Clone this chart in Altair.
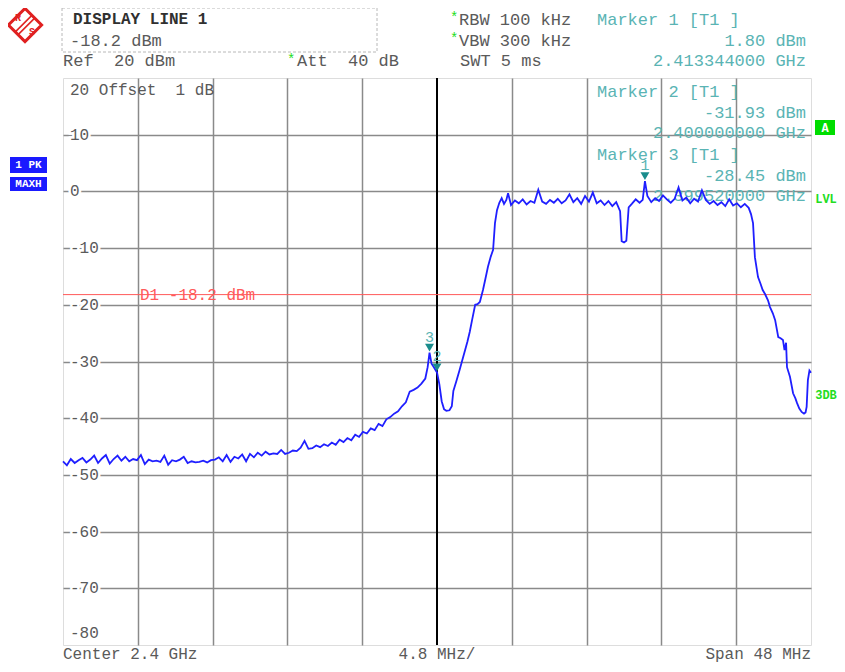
import altair as alt
import pandas as pd

# ---------------- data ----------------
freq_mhz = [
    -24.0, -23.75, -23.5, -23.25, -23.0, -22.75, -22.5, -22.25, -22.0, -21.75,
    -21.5, -21.25, -21.0, -20.75, -20.5, -20.25, -20.0, -19.75, -19.5, -19.25,
    -19.0, -18.75, -18.5, -18.25, -18.0, -17.75, -17.5, -17.25, -17.0, -16.75,
    -16.5, -16.25, -16.0, -15.75, -15.5, -15.25, -15.0, -14.75, -14.5, -14.25,
    -14.0, -13.75, -13.5, -13.25, -13.0, -12.75, -12.5, -12.25, -12.0, -11.75,
    -11.5, -11.25, -11.0, -10.75, -10.5, -10.25, -10.0, -9.75, -9.5, -9.25,
    -9.0, -8.75, -8.5, -8.25,
    -8.0, -7.75, -7.5, -7.25, -7.0, -6.75, -6.5, -6.25, -6.0, -5.75,
    -5.5, -5.25, -5.0, -4.75, -4.5, -4.25, -4.0, -3.75, -3.5, -3.25,
    -3.0, -2.75, -2.5, -2.25, -2.0, -1.75, -1.5, -1.25, -1.0, -0.75,
    -0.6, -0.48, -0.35, -0.2, 0.0, 0.15, 0.3, 0.45, 0.6, 0.8,
    0.95, 1.05, 1.25, 1.45, 1.6, 1.8, 1.95, 2.1, 2.25, 2.45,
    2.6, 2.75, 2.95, 3.1, 3.27, 3.45, 3.6, 3.72, 3.85, 4.0,
    4.15, 4.3, 4.45, 4.56,
    4.75, 5.0, 5.25, 5.5, 5.75, 6.0, 6.25, 6.5, 6.75, 7.0,
    7.25, 7.5, 7.75, 8.0, 8.25, 8.5, 8.75, 9.0, 9.25, 9.5,
    9.75, 10.0, 10.25, 10.5, 10.75, 11.0, 11.25, 11.5, 11.75, 11.85,
    12.0, 12.15, 12.3, 12.5, 12.75, 13.0, 13.2, 13.344, 13.5, 13.75,
    14.0, 14.25, 14.5, 14.75, 15.0, 15.25, 15.5, 15.75, 16.0, 16.25,
    16.5, 16.75, 17.0, 17.25, 17.5, 17.75, 18.0, 18.25, 18.5, 18.75,
    19.0, 19.25, 19.5, 19.75, 20.0, 20.15, 20.28, 20.4, 20.6, 20.75,
    20.9, 21.05, 21.24, 21.37, 21.55, 21.7, 21.9, 22.05, 22.2, 22.3,
    22.4, 22.46, 22.65, 22.85, 23.0, 23.1, 23.25, 23.4, 23.55, 23.65,
    23.72, 23.8, 23.9, 24.0,
]
level_dbm = [
    -47.6, -48.3, -47.2, -47.9, -47.4, -47.0, -47.8, -47.3, -46.6, -47.9,
    -47.1, -46.5, -48.0, -47.2, -46.6, -47.5, -46.8, -47.6, -47.2, -47.4,
    -46.5, -48.1, -47.3, -47.6, -47.5, -47.7, -46.6, -48.2, -47.4, -47.6,
    -47.3, -46.8, -47.9, -47.6, -47.8, -47.7, -47.5, -47.8, -47.4, -47.3,
    -46.9, -47.6, -46.5, -47.7, -46.8, -47.1, -46.4, -47.6, -46.3, -46.9,
    -46.1, -46.6, -45.9, -46.4, -46.2, -46.3, -45.6, -46.3, -46.1, -45.7,
    -45.8, -45.2, -44.0, -45.4,
    -45.3, -44.8, -45.1, -44.6, -44.9, -44.3, -44.7, -43.8, -44.2, -43.5,
    -43.9, -42.9, -43.3, -42.4, -42.7, -41.8, -42.1, -41.0, -41.4, -40.2,
    -39.8, -39.2, -38.8, -37.9, -37.2, -35.3, -35.0, -34.6, -33.9, -33.0,
    -31.0, -28.45, -30.4, -31.0, -31.93, -34.0, -37.0, -38.4, -38.7, -38.6,
    -37.9, -35.2, -33.4, -31.5, -30.0, -28.0, -26.5, -24.8, -22.7, -20.0,
    -19.9, -19.5, -17.4, -15.5, -13.3, -11.5, -10.3, -5.6, -3.3, -2.0,
    -1.2, -2.2, -1.5, -0.3,
    -2.4, -1.6, -2.1, -1.4, -2.3, -1.7, -2.0, 0.3, -1.8, -2.2,
    -1.5, -2.0, -1.3, -2.1, -1.6, -0.5, -1.9, -1.2, -2.2, -0.8,
    -1.8, -0.2, -2.1, -1.6, -2.4, -1.7, -2.6, -1.9, -3.5, -8.8,
    -9.0, -8.7, -2.8, -2.2, -1.4, -2.0, -1.5, 1.80, -0.8, -1.9,
    -1.2, -1.7, -0.7, -1.4, -2.0, -1.3, 0.7, -1.6, -1.1, -2.1,
    -1.3, -1.8, 0.2, -1.5, -2.2, -1.7, -2.4, -1.9, -2.6, -1.4,
    -2.5, -2.1, -2.8, -2.2, -2.9, -4.0, -5.6, -11.6, -15.1, -16.2,
    -17.4, -18.1, -19.2, -20.4, -21.5, -22.7, -25.7, -25.9, -26.2, -28.0,
    -26.7, -31.0, -32.7, -35.6, -36.5, -37.3, -38.3, -38.9, -39.2, -39.0,
    -38.0, -33.3, -31.6, -32.0,
]

grid_x = [-19.2, -14.4, -9.6, -4.8, 4.8, 9.6, 14.4, 19.2]
grid_y = [10, 0, -10, -20, -30, -40, -50, -60, -70]
ylabel_vals = [10, 0, -10, -20, -30, -40, -50, -60, -70]
ylabel_text = ["10", "0", "-10", "-20", "-30", "-40", "-50", "-60", "-70"]

display_line_db = -18.2
marker_freq = [13.344, 0.0, -0.48]
marker_level = [1.80, -31.93, -28.45]
marker_name = ["1", "2", "3"]

NB = "\u00a0"
header_left = ["DISPLAY LINE 1", "-18.2 dBm", "Ref" + NB * 2 + "20 dBm", "Att" + NB * 2 + "40 dB"]
header_mid = ["RBW 100 kHz", "VBW 300 kHz", "SWT 5 ms"]
marker_lines = [
    "Marker 1 [T1 ]", "1.80 dBm", "2.413344000 GHz",
    "Marker 2 [T1 ]", "-31.93 dBm", "2.400000000 GHz",
    "Marker 3 [T1 ]", "-28.45 dBm", "2.399520000 GHz",
]
footer = ["Center 2.4 GHz", "4.8 MHz/", "Span 48 MHz"]

# ---------------- styling ----------------
FONT = "Liberation Mono"
W, H = 748, 567
GRAY = "#5a5a5a"
TEAL = "#5ab4b4"
TEAL_D = "#1a8c8c"
GREEN = "#22dd22"
BLUE = "#1f1fff"
RED = "#ff5a5a"

trace = pd.DataFrame({"f": freq_mhz, "db": level_dbm})
markers = pd.DataFrame({"f": marker_freq, "db": marker_level, "name": marker_name})
ylabels = pd.DataFrame({"db": ylabel_vals, "t": ylabel_text})
one = pd.DataFrame({"k": [0]})

xscale = alt.Scale(domain=[-24, 24], nice=False, zero=False)
yscale = alt.Scale(domain=[-80, 20], nice=False, zero=False)
xaxis = alt.Axis(values=grid_x, grid=True, gridColor="#8a8a8a", gridWidth=1.5,
                 labels=False, ticks=False, domain=False, title=None)
yaxis = alt.Axis(values=grid_y, grid=True, gridColor="#8a8a8a", gridWidth=1.5,
                 labels=False, ticks=False, domain=False, title=None)


def X():
    return alt.X("f:Q", scale=xscale, axis=xaxis)


def Y():
    return alt.Y("db:Q", scale=yscale, axis=yaxis)


def label(s, px, py, color=GRAY, size=17, align="left", weight="normal"):
    return alt.Chart(one).mark_text(
        text=s, font=FONT, fontSize=size, color=color, align=align,
        baseline="middle", fontWeight=weight,
    ).encode(x=alt.value(px), y=alt.value(py))


def box(x1, x2, y1, y2, fill=None, stroke=None, dash=None, sw=1):
    kw = {}
    if fill:
        kw["fill"] = fill
    else:
        kw["fillOpacity"] = 0
    if stroke:
        kw["stroke"] = stroke
        kw["strokeWidth"] = sw
    if dash:
        kw["strokeDash"] = dash
    return alt.Chart(one).mark_rect(**kw).encode(
        x=alt.value(x1), x2=alt.value(x2), y=alt.value(y1), y2=alt.value(y2))


def seg(x1, y1, x2, y2, color, sw):
    return alt.Chart(one).mark_rule(color=color, strokeWidth=sw).encode(
        x=alt.value(x1), x2=alt.value(x2), y=alt.value(y1), y2=alt.value(y2))


layers = []

# grid carrier (invisible) + center line
layers.append(alt.Chart(trace).mark_line(opacity=0).encode(x=X(), y=Y()))
layers.append(alt.Chart(pd.DataFrame({"f": [0.0]})).mark_rule(color="black", strokeWidth=2).encode(x=X()))

# y labels erasing the grid behind them
layers.append(alt.Chart(ylabels).mark_text(font=FONT, fontSize=16, align="left", baseline="middle",
                                           color="white", stroke="white", strokeWidth=5)
              .encode(x=alt.value(7), y=Y(), text="t:N"))
layers.append(alt.Chart(ylabels).mark_text(font=FONT, fontSize=16, align="left", baseline="middle",
                                           color=GRAY).encode(x=alt.value(7), y=Y(), text="t:N"))
layers.append(label("20 Offset" + NB * 2 + "1 dB", 7, 12, size=16))
layers.append(label("-80", 7, 555, size=16))

# display line
layers.append(alt.Chart(pd.DataFrame({"db": [display_line_db]})).mark_rule(color=RED, strokeWidth=1).encode(y=Y()))
layers.append(alt.Chart(pd.DataFrame({"db": [display_line_db]})).mark_text(
    text="D1 -18.2 dBm", font=FONT, fontSize=16, color=RED, align="left", baseline="middle")
    .encode(x=alt.value(77), y=Y()))

# marker info text (inside and above plot)
mk_pos = [(534, -58, "left"), (743, -37, "right"), (743, -17, "right"),
          (534, 14, "left"), (743, 35, "right"), (743, 55, "right"),
          (534, 77, "left"), (743, 98, "right"), (743, 118, "right")]
for s, (px, py, al) in zip(marker_lines, mk_pos):
    layers.append(label(s, px, py, color=TEAL, align=al))

# trace
layers.append(alt.Chart(trace).mark_line(color=BLUE, strokeWidth=1.8).encode(x=X(), y=Y()))

# markers
layers.append(alt.Chart(markers).mark_point(shape="triangle-down", filled=True, size=80,
                                            color=TEAL_D, opacity=1, yOffset=-5)
              .encode(x=X(), y=Y()))
layers.append(alt.Chart(markers).mark_text(font=FONT, fontSize=15, color=TEAL, dy=-16,
                                           baseline="middle")
              .encode(x=X(), y=Y(), text="name:N"))

# header
layers.append(box(-1, 314, -70, -26, stroke="#b8b8b8", dash=[3, 2]))
layers.append(label(header_left[0], 10, -59, color="#303030", size=16, weight="bold"))
layers.append(label(header_left[1], 7, -37))
layers.append(label(header_left[2], 0, -17))
layers.append(label("*", 224, -18, color=GREEN, size=14))
layers.append(label(header_left[3], 234, -17))
layers.append(label("*", 387, -60, color=GREEN, size=14))
layers.append(label(header_mid[0], 396, -58))
layers.append(label("*", 387, -39, color=GREEN, size=14))
layers.append(label(header_mid[1], 396, -37))
layers.append(label(header_mid[2], 397, -17))

# R&S logo
layers.append(alt.Chart(one).mark_point(shape="diamond", size=1100, filled=False, color="#e02020",
                                        strokeWidth=3, opacity=1)
              .encode(x=alt.value(-38), y=alt.value(-53)))
layers.append(seg(-47.9, -45.9, -30.9, -62.9, "#e02020", 1.5))
layers.append(seg(-45.1, -43.1, -28.1, -60.1, "#e02020", 1.5))
layers.append(label("R", -45, -60, color="#e02020", size=10, align="center", weight="bold"))
layers.append(label("S", -31, -46, color="#e02020", size=10, align="center", weight="bold"))

# left trace-mode boxes
layers.append(box(-53, -16, 79, 95, fill="#1a1aff"))
layers.append(label("1 PK", -34.5, 87, color="white", size=11, align="center", weight="bold"))
layers.append(box(-53, -16, 99, 113, fill="#1a1aff"))
layers.append(label("MAXH", -34.5, 106, color="white", size=11, align="center", weight="bold"))

# right status
layers.append(box(752, 772, 42, 57, fill="#00dd00"))
layers.append(label("A", 762, 50, color="white", size=12, align="center", weight="bold"))
layers.append(label("LVL", 763, 121, color=GREEN, size=12, align="center", weight="bold"))
layers.append(label("3DB", 763, 317, color=GREEN, size=12, align="center", weight="bold"))

# footer
layers.append(label(footer[0], 0, 576, size=16))
layers.append(label(footer[1], 374, 576, size=16, align="center"))
layers.append(label(footer[2], 748, 576, size=16, align="right"))

chart = alt.layer(*layers).properties(
    width=W, height=H,
    padding={"left": 55, "top": 70, "right": 26, "bottom": 19},
    autosize=alt.AutoSizeParams(type="none"),
).configure_view(stroke="black", strokeWidth=2.5).configure(background="white")

chart.save("out.html", embed_options={"renderer": "svg", "actions": False})
